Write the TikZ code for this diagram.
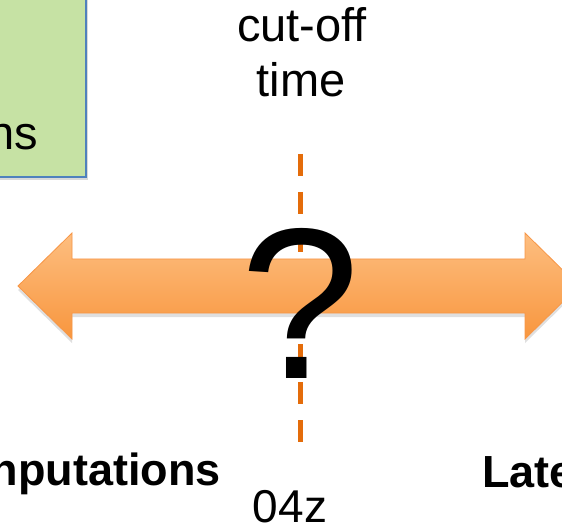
\documentclass[tikz,border=0pt]{standalone}
\usepackage{fontspec}
\setmainfont{Liberation Sans}
\usetikzlibrary{shadows}
\definecolor{boxgreen}{RGB}{198,226,164}
\definecolor{boxblue}{RGB}{79,129,189}
\definecolor{arrtop}{RGB}{253,190,128}
\definecolor{arrbot}{RGB}{248,150,62}
\definecolor{arredge}{RGB}{247,150,70}
\definecolor{cutorange}{RGB}{228,108,10}
\tikzset{
  greenbox/.style={draw=boxblue, line width=2pt, fill=boxgreen, inner sep=0pt,
    drop shadow={shadow xshift=2pt, shadow yshift=-3pt, opacity=0.3}},
  bigtxt/.style={inner sep=0pt, font=\fontsize{47}{55}\selectfont},
  boldtxt/.style={inner sep=0pt, font=\fontsize{45}{54}\selectfont\bfseries},
  cutline/.style={draw=cutorange, line width=5pt, dash pattern=on 22pt off 16pt},
  blockarrow/.style={draw=arredge, line width=0.8pt, top color=arrtop, bottom color=arrbot,
    drop shadow={shadow xshift=0pt, shadow yshift=-4pt, opacity=0.25}},
  qmark/.style={inner sep=0pt, font=\fontsize{215}{215}\selectfont}
}
\begin{document}
\begin{tikzpicture}[x=1pt, y=-1pt]
\useasboundingbox (0,0) rectangle (562,529);
\clip (0,0) rectangle (562,529);
% green box (cropped)
\node[greenbox, minimum width=120pt, minimum height=200pt, anchor=south east] (box) at (87,178) {};
\node[bigtxt, anchor=base east] (ns) at (38.5,150) {ns};
% cut-off label
\node[bigtxt, anchor=base] (cut) at (302,42) {cut-off};
\node[bigtxt, anchor=base] (time) at (301,97) {time};
% dashed cut-off line
\coordinate (cutT) at (300,154);
\coordinate (cutB) at (300,442);
\draw[cutline] (cutT) -- (cutB);
% double block arrow
\coordinate (ltip) at (18,286);
\coordinate (rtip) at (579,286);
\path[blockarrow] (ltip) -- (72,233) -- (72,259) -- (525,259) -- (525,233) -- (rtip)
  -- (525,339) -- (525,313) -- (72,313) -- (72,339) -- cycle;
% question mark
\node[qmark, anchor=base] (q) at (300,378) {?};
% bottom labels
\node[boldtxt, anchor=base east] (left) at (221,485) {nputations};
\node[boldtxt, anchor=base west] (right) at (482,487) {Late};
\node[inner sep=0pt, font=\fontsize{46}{55}\selectfont, anchor=base] (z) at (290,522) {04z};
\end{tikzpicture}
\end{document}
